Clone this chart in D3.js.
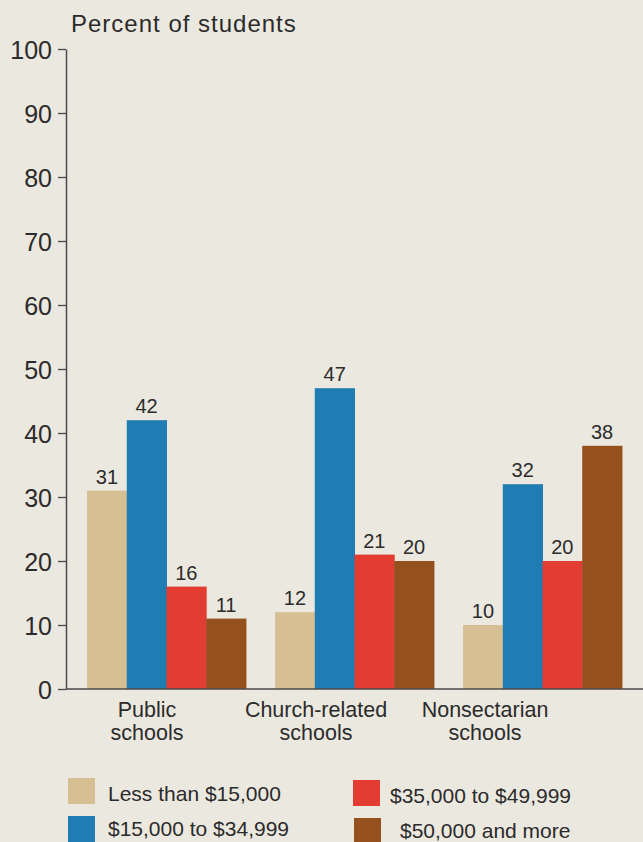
<!DOCTYPE html>
<html>
<head>
<meta charset="utf-8">
<script src="https://cdn.jsdelivr.net/npm/d3@7"></script>
<style>
  html, body { margin: 0; padding: 0; background: #ebe8e0; }
  svg { display: block; }
  text { font-family: "Liberation Sans", Arial, Helvetica, sans-serif; fill: #2b2b2b; }
</style>
</head>
<body>
<svg id="chart" width="643" height="842"></svg>
<script>
// School types along the x axis (two-line labels)
const categories = ["Public schools", "Church-related schools", "Nonsectarian schools"];
const categoryLines = [["Public", "schools"], ["Church-related", "schools"], ["Nonsectarian", "schools"]];

// Family income brackets
const series = ["Less than $15,000", "$15,000 to $34,999", "$35,000 to $49,999", "$50,000 and more"];
const seriesColors = ["#d6bf93", "#1f7db4", "#e23c33", "#94501d"];

// Percent of students, one array per income bracket (public, church-related, nonsectarian)
const lessThan15k = [31, 12, 10];
const from15kTo35k = [42, 47, 32];
const from35kTo50k = [16, 21, 20];
const over50k = [11, 20, 38];
const seriesValues = [lessThan15k, from15kTo35k, from35kTo50k, over50k];

const yTicks = [0, 10, 20, 30, 40, 50, 60, 70, 80, 90, 100];
const yTitle = "Percent of students";

const svg = d3.select("#chart");
const W = 643, H = 842;

svg.append("rect").attr("width", W).attr("height", H).attr("fill", "#ebe8e0");

const axisX = 66, baseY = 689, topY = 49;

const y = d3.scaleLinear().domain([0, 100]).range([baseY, topY]);

const x0 = d3.scaleBand().domain(categories).range([axisX, W])
  .paddingInner(0.155).paddingOuter(0.112);
const x1 = d3.scaleBand().domain(series).range([0, x0.bandwidth()]).padding(0);

// Category label anchors
const xLabel = d3.scalePoint().domain(categories).range([147, 485]);

const color = d3.scaleOrdinal().domain(series).range(seriesColors);

// Bars
const groups = svg.append("g").selectAll("g")
  .data(categories)
  .join("g")
  .attr("transform", d => `translate(${x0(d)},0)`);

groups.selectAll("rect")
  .data((d, i) => series.map((s, j) => ({ s, v: seriesValues[j][i] })))
  .join("rect")
  .attr("x", d => x1(d.s))
  .attr("y", d => y(d.v))
  .attr("width", x1.bandwidth() + 0.5)
  .attr("height", d => baseY - y(d.v))
  .attr("fill", d => color(d.s));

// Value labels above bars
groups.selectAll("text.val")
  .data((d, i) => series.map((s, j) => ({ s, v: seriesValues[j][i] })))
  .join("text")
  .attr("class", "val")
  .attr("x", d => x1(d.s) + x1.bandwidth() / 2)
  .attr("y", d => y(d.v) - 7)
  .attr("text-anchor", "middle")
  .attr("font-size", 20)
  .text(d => d.v);

// Y axis
const yAxis = d3.axisLeft(y).tickValues(yTicks).tickSize(8).tickPadding(6).tickSizeOuter(0);
const ya = svg.append("g").attr("transform", `translate(${axisX},0)`).call(yAxis);
ya.select(".domain").attr("stroke", "#4a4a4a").attr("stroke-width", 1.5);
ya.selectAll(".tick line").attr("stroke", "#4a4a4a").attr("stroke-width", 1.3);
ya.selectAll(".tick text").attr("font-size", 25).attr("font-family", "Liberation Sans, Arial, sans-serif")
  .attr("fill", "#2b2b2b").attr("dy", "0.36em");

// Baseline
svg.append("line")
  .attr("x1", axisX).attr("x2", W)
  .attr("y1", baseY).attr("y2", baseY)
  .attr("stroke", "#4a4a4a").attr("stroke-width", 1.5);

// Axis title
svg.append("text")
  .attr("x", 71).attr("y", 32)
  .attr("font-size", 24)
  .attr("letter-spacing", 1)
  .text(yTitle);

// Category labels
const catLabels = svg.append("g").selectAll("text")
  .data(categories)
  .join("text")
  .attr("text-anchor", "middle")
  .attr("font-size", 21.5)
  .attr("y", 717);
catLabels.selectAll("tspan")
  .data((d, i) => categoryLines[i].map(line => ({ line, cat: d })))
  .join("tspan")
  .attr("x", d => xLabel(d.cat))
  .attr("dy", (d, k) => k === 0 ? 0 : 23)
  .text(d => d.line);

// Legend (two columns)
const legendPos = [[68, 778], [68, 816], [353, 780], [354, 818]];
const legendTextX = [40, 40, 37, 46];
const legend = svg.append("g").selectAll("g")
  .data(series)
  .join("g")
  .attr("transform", (d, i) => `translate(${legendPos[i][0]},${legendPos[i][1]})`);
legend.append("rect")
  .attr("width", 27).attr("height", 26)
  .attr("fill", d => color(d));
legend.append("text")
  .attr("x", (d, i) => legendTextX[i])
  .attr("y", (d, i) => i % 2 === 1 ? 20 : 23)
  .attr("font-size", 21)
  .text(d => d);
</script>
</body>
</html>
